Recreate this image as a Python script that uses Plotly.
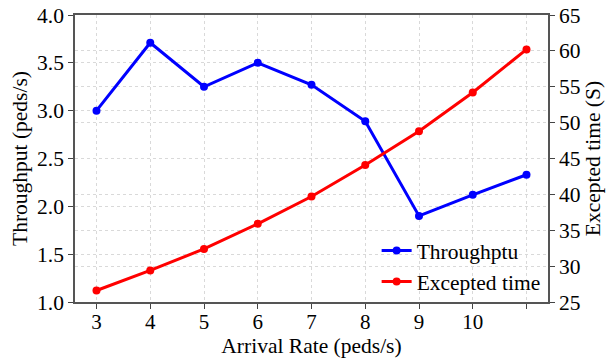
import plotly.graph_objects as go

arrival = [3, 4, 5, 6, 7, 8, 9, 10, 11]
throughput = [3.0, 3.71, 3.25, 3.5, 3.27, 2.89, 1.9, 2.12, 2.33]
expected_time = [26.6, 29.4, 32.4, 35.9, 39.7, 44.1, 48.8, 54.2, 60.2]
x_tick_vals = [3, 4, 5, 6, 7, 8, 9, 10, 11]
x_tick_text = ["3", "4", "5", "6", "7", "8", "9", "10", ""]

FF = "Liberation Serif, Times New Roman, serif"


def fnt(size=21.5):
    return dict(family=FF, size=size, color="black")


fig = go.Figure()
fig.add_trace(go.Scatter(
    x=arrival, y=throughput, name="Throughptu", mode="lines+markers",
    line=dict(color="#0000ff", width=3), marker=dict(size=8, color="#0000ff"),
    yaxis="y"))
fig.add_trace(go.Scatter(
    x=arrival, y=expected_time, name="Excepted time", mode="lines+markers",
    line=dict(color="#ff0000", width=3), marker=dict(size=8, color="#ff0000"),
    yaxis="y2"))

grid = dict(showgrid=True, gridcolor="#d9d9d9", griddash="dot", gridwidth=1)

fig.update_layout(
    width=606, height=361,
    margin=dict(l=75, r=58, t=15, b=59, autoexpand=False),
    paper_bgcolor="white", plot_bgcolor="white",
    font=fnt(),
    xaxis=dict(range=[2.6, 11.4], tickvals=x_tick_vals, ticktext=x_tick_text,
               ticks="outside", ticklen=5, tickcolor="#444", tickfont=fnt(21),
               ticklabelstandoff=-5,
               showline=True, linecolor="#555", linewidth=1.5, mirror=True,
               automargin=False,
               title=dict(text="Arrival Rate (peds/s)", standoff=2, font=fnt()),
               zeroline=False, **grid),
    yaxis=dict(range=[1.0, 4.0], dtick=0.5, tickformat=".1f",
               ticks="outside", ticklen=5, tickcolor="#444", tickfont=fnt(),
               showline=True, linecolor="#555", linewidth=1.5,
               automargin=False,
               title=dict(text="Throughput (peds/s)", standoff=4, font=fnt()),
               zeroline=False, **grid),
    yaxis2=dict(range=[25, 65], dtick=5, overlaying="y", side="right",
                ticks="outside", ticklen=5, tickcolor="#444", tickfont=fnt(),
                showline=True, linecolor="#555", linewidth=1.5,
                automargin=False,
                title=dict(text="Excepted time (S)", standoff=4, font=fnt()),
                zeroline=False, **grid),
    legend=dict(x=0.995, y=0.0, xanchor="right", yanchor="bottom",
                bgcolor="rgba(0,0,0,0)", font=fnt(),
                tracegroupgap=0, itemwidth=30),
    showlegend=True,
)

fig.write_html("out.html")
